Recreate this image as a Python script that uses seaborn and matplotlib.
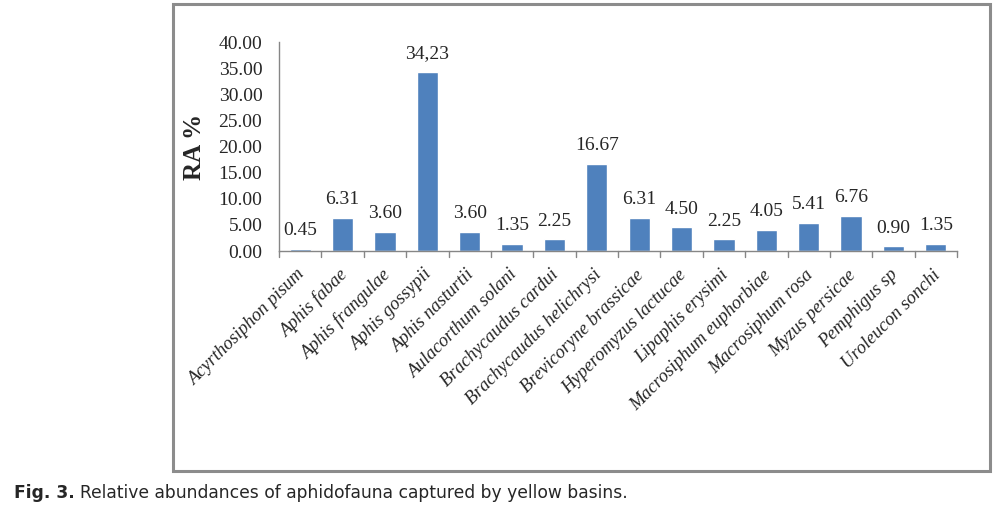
import matplotlib.pyplot as plt
import seaborn as sns
import pandas as pd
from matplotlib.patches import Rectangle
from matplotlib.transforms import ScaledTranslation

species = ["Acyrthosiphon pisum", "Aphis fabae", "Aphis frangulae", "Aphis gossypii",
           "Aphis nasturtii", "Aulacorthum solani", "Brachycaudus cardui",
           "Brachycaudus helichrysi", "Brevicoryne brassicae", "Hyperomyzus lactucae",
           "Lipaphis erysimi", "Macrosiphum euphorbiae", "Macrosiphum rosa",
           "Myzus persicae", "Pemphigus sp", "Uroleucon sonchi"]
ra = [0.45, 6.31, 3.60, 34.23, 3.60, 1.35, 2.25, 16.67, 6.31, 4.50, 2.25, 4.05,
      5.41, 6.76, 0.90, 1.35]
value_labels = ["0.45", "6.31", "3.60", "34,23", "3.60", "1.35", "2.25", "16.67",
                "6.31", "4.50", "2.25", "4.05", "5.41", "6.76", "0.90", "1.35"]
yticks = [0, 5, 10, 15, 20, 25, 30, 35, 40]

df = pd.DataFrame({"species": species, "ra": ra})

sns.set_style("white")
plt.rcParams['font.family'] = ['Liberation Serif', 'DejaVu Serif']

fig = plt.figure(figsize=(10.05, 5.08), dpi=100)
W, H = 1005, 508
ax = fig.add_axes([279 / W, 1 - 251 / H, (957 - 279) / W, (251 - 42) / H])

sns.barplot(data=df, x="species", y="ra", color="#4F81BD", saturation=1,
            width=0.5, ax=ax)

for i, (v, lab) in enumerate(zip(ra, value_labels)):
    ax.annotate(lab, (i, v), xytext=(0, 7), textcoords="offset points",
                ha="center", va="bottom", fontsize=14)

ax.set_xlim(-0.5, len(species) - 0.5)
ax.set_ylim(0, 40)
ax.set_yticks(yticks)
ax.set_yticklabels([f"{t:.2f}" for t in yticks], fontsize=14)
ax.set_xticks(range(len(species)))
ax.set_xticklabels(species, rotation=45, ha="right", rotation_mode="anchor",
                   fontsize=13.3, style="italic")
ax.tick_params(axis="x", length=0, pad=11)
ax.tick_params(axis="y", length=5, width=1, color="#868686", direction="out", pad=7)
shift = ScaledTranslation(-4 / 100, 0, fig.dpi_scale_trans)
for lbl in ax.get_xticklabels():
    lbl.set_transform(lbl.get_transform() + shift)
for k in range(len(species) + 1):
    ax.plot([k - 0.5, k - 0.5], [0, -0.028], transform=ax.get_xaxis_transform(),
            color="#868686", lw=1, clip_on=False)

for s in ["top", "right"]:
    ax.spines[s].set_visible(False)
for s in ["left", "bottom"]:
    ax.spines[s].set_color("#868686")
    ax.spines[s].set_linewidth(1)

ax.set_xlabel("")
ax.set_ylabel("")
fig.text(194 / W, 1 - 147 / H, "RA %", rotation=90, ha="center", va="center",
         fontsize=18, fontweight="bold")

# outer frame
fig.patches.append(Rectangle((173 / W, 1 - 471 / H), (990 - 173) / W, (471 - 4) / H,
                             transform=fig.transFigure, fill=False,
                             edgecolor="#8c8c8c", lw=2.2))

# caption: bold lead-in, then normal text
cap1 = fig.text(14 / W, 1 - 493 / H, "Fig. 3.", fontsize=12.3, va="center",
                family="DejaVu Sans", fontweight="bold")
fig.canvas.draw()
x_end = cap1.get_window_extent().x1
fig.text((x_end + 5) / W, 1 - 493 / H,
         "Relative abundances of aphidofauna captured by yellow basins.",
         fontsize=12.3, va="center", family="DejaVu Sans")

fig.savefig("out.png", dpi=100)
